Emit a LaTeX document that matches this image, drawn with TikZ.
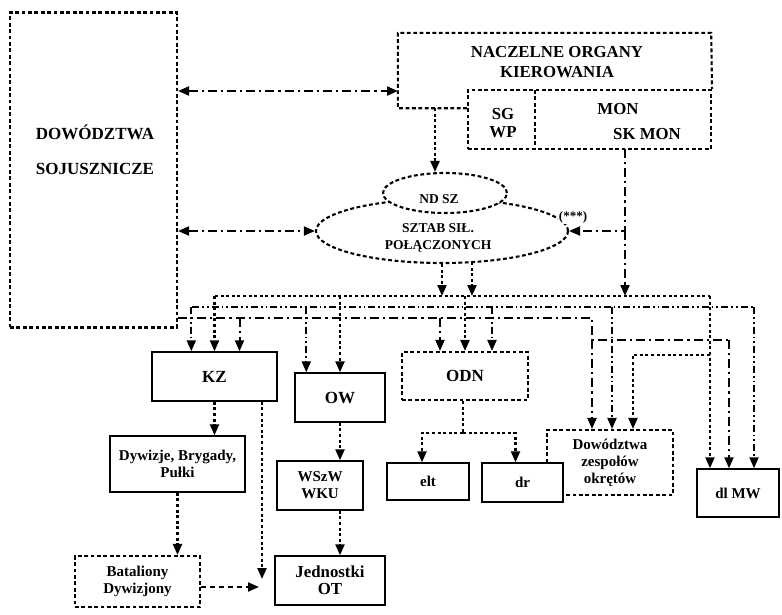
\documentclass[tikz,border=0pt]{standalone}
\usepackage{fontspec}
\setmainfont{Liberation Serif}
\usetikzlibrary{arrows.meta,shapes.geometric}
\begin{document}
\begin{tikzpicture}[x=1pt,y=-1pt,
  sbox/.style={draw, line width=1.4pt, inner sep=0pt, align=center},
  dbox/.style={draw, line width=2.1pt, dash pattern=on 3.8pt off 2.6pt, inner sep=0pt, align=center},
  dframe/.style={line width=2.1pt, dash pattern=on 3.8pt off 2.6pt},
  lab/.style={inner sep=0pt, align=center},
  bigtxt/.style={font=\fontsize{17}{17}\selectfont\bfseries},
  smalltxt/.style={font=\fontsize{15}{17}\selectfont\bfseries},
  elltxt/.style={font=\fontsize{13.5}{17}\selectfont\bfseries},
  dotln/.style={line width=2.2pt, dash pattern=on 3pt off 2.6pt},
  dashln/.style={line width=2.1pt, dash pattern=on 5pt off 4pt},
  ddln/.style={line width=2pt, dash pattern=on 7pt off 3pt on 1.8pt off 3pt on 1.8pt off 3pt},
  dcln/.style={line width=2pt, dash pattern=on 9pt off 4pt on 2.2pt off 4pt},
  toarr/.style={-{Triangle[length=11pt,width=9pt]}},
  botharr/.style={{Triangle[length=11pt,width=9pt]}-{Triangle[length=11pt,width=9pt]}},
]
\useasboundingbox (0,0) rectangle (782,614);

% --- allied commands ---
\node[dbox, minimum width=167pt, minimum height=315pt] (ds) at (93.5,170) {};
\node[lab, bigtxt] (dslbl) at (95,150) {DOWÓDZTWA\\[18pt]SOJUSZNICZE};

% --- supreme command bodies ---
\node[lab, minimum width=313pt, minimum height=75pt] (nok) at (554.5,70.5) {};
\node[dbox, minimum width=243pt, minimum height=59pt] (ib) at (589.5,119.5) {};
\draw[dframe] (ib.west |- nok.south) -- (nok.south west) -- (nok.north west) -- (nok.north east) -- (ib.north east);
\draw[dframe] (535,90) -- (535,149);
\node[lab, font=\fontsize{16.8}{20}\selectfont\bfseries] (noklbl) at (557,62) {NACZELNE ORGANY\\KIEROWANIA};
\node[lab, font=\fontsize{16.8}{18}\selectfont\bfseries] (sgwp) at (503,123) {SG\\WP};
\node[lab, font=\fontsize{16.8}{18}\selectfont\bfseries] (mon) at (618,109) {MON};
\node[lab, font=\fontsize{16.8}{18}\selectfont\bfseries] (skmon) at (647,134) {SK MON};

% --- joint forces staff ---
\node[dbox, ellipse, minimum width=252pt, minimum height=64pt] (szt) at (442,231) {};
\node[dbox, ellipse, fill=white, minimum width=124pt, minimum height=40pt] (ndsz) at (445,193) {};
\node[lab, elltxt] (ndszlbl) at (439,199) {ND SZ};
\node[lab, elltxt] (sztlbl) at (438,238) {SZTAB SIŁ.\\POŁĄCZONYCH};
\node[lab, font=\fontsize{13}{13}\selectfont\bfseries, fill=white, inner sep=1pt] (stars) at (573,217) {(***)};

% --- subordinate commands ---
\node[sbox, bigtxt, minimum width=125pt, minimum height=49pt] (kz) at (214.5,376.5) {KZ};
\node[sbox, bigtxt, minimum width=90pt, minimum height=49pt] (ow) at (340,397.5) {OW};
\node[dbox, bigtxt, minimum width=126pt, minimum height=48pt] (odn) at (465,376) {ODN};
\node[dbox, smalltxt, minimum width=126pt, minimum height=65pt] (dzo) at (610,462.5) {Dowództwa\\zespołów\\okrętów};
\node[sbox, smalltxt, minimum width=82pt, minimum height=48pt] (dlmw) at (738,493) {dl MW};

\node[sbox, smalltxt, minimum width=135pt, minimum height=56pt] (dyw) at (177.5,464) {Dywizje, Brygady,\\Pułki};
\node[dbox, smalltxt, minimum width=125pt, minimum height=51pt] (bat) at (137.5,581.5) {Bataliony\\Dywizjony};
\node[sbox, smalltxt, minimum width=86pt, minimum height=49pt] (wszw) at (320,485.5) {WSzW\\WKU};
\node[sbox, font=\fontsize{16.8}{17}\selectfont\bfseries, minimum width=110pt, minimum height=49pt] (jot) at (330,580.5) {Jednostki\\OT};
\node[sbox, smalltxt, minimum width=82pt, minimum height=37pt] (elt) at (428,481.5) {elt};
\node[sbox, smalltxt, fill=white, minimum width=81pt, minimum height=39pt] (dr) at (522.5,482.5) {dr};

% --- arrow landing points on the boxes ---
\coordinate (kz1) at ([xshift=40pt]kz.north west);
\coordinate (kz3) at ([xshift=25pt]kz.north);
\coordinate (ow2) at ([xshift=12pt]ow.north west);
\coordinate (odn3) at ([xshift=-25pt]odn.north);
\coordinate (odn2) at ([xshift=27pt]odn.north);
\coordinate (dzo3) at ([xshift=-18pt]dzo.north);
\coordinate (dzo2) at ([xshift=2pt]dzo.north);
\coordinate (dzo1) at ([xshift=23pt]dzo.north);
\coordinate (dl1) at ([xshift=-28pt]dlmw.north);
\coordinate (dl3) at ([xshift=-9pt]dlmw.north);
\coordinate (dl2) at ([xshift=16pt]dlmw.north);

% --- distribution lines ---
\coordinate (b1L) at (215,296);
\coordinate (b1R) at (710,296);
\coordinate (b2L) at (192,307);
\coordinate (b2R) at (754,307);
\coordinate (b3M) at (592,318);
\coordinate (b3K) at (592,340);
\coordinate (b3R) at (729,340);
\coordinate (b1K) at (710,355);
\coordinate (b1D) at (633,355);

% --- links to the top ---
\coordinate (nokin) at (398,91);
\draw[dcln, botharr] (ds.east |- nokin) -- (nokin);
\draw[dcln, botharr] (ds.east |- szt.west) -- (szt.west);
\coordinate (nokout) at (435,108);
\draw[dotln, toarr] (nokout) -- (nokout |- ndsz.north);
\coordinate (monout) at (625,149);
\draw[dcln, toarr] (monout) |- (szt.east);
\draw[dcln, toarr] (monout |- szt.east) -- (monout |- b1L);
\coordinate (sztout) at (472,262);
\draw[dotln, toarr] (szt.south) -- (szt.south |- b1L);
\draw[dotln, toarr] (sztout) -- (sztout |- b1L);

% --- buses ---
\draw[dotln] (b1L) -- (b1R);
\draw[ddln] (b2L) -- (b2R);
\draw[dcln] (ds.east |- b3M) -- (b3M) -- (b3K) -- (b3R);

% dotted bus drops
\draw[dotln, toarr] (kz.north |- b1L) -- (kz.north);
\draw[dotln, toarr] (ow.north |- b1L) -- (ow.north);
\draw[dotln, toarr] (odn.north |- b1L) -- (odn.north);
\draw[dotln, toarr] (b1R) -- (dl1);
\draw[dotln, toarr] (b1K) -- (b1D) -- (dzo1);

% dash-dot-dot bus drops
\draw[ddln, toarr] (kz1 |- b2L) -- (kz1);
\draw[ddln, toarr] (ow2 |- b2L) -- (ow2);
\draw[ddln, toarr] (odn2 |- b2L) -- (odn2);
\draw[ddln, toarr] (dzo2 |- b2L) -- (dzo2);
\draw[ddln, toarr] (b2R) -- (dl2);

% dash-dot bus drops
\draw[dcln, toarr] (kz3 |- b3M) -- (kz3);
\draw[dcln, toarr] (odn3 |- b3M) -- (odn3);
\draw[dcln, toarr] (b3K) -- (dzo3);
\draw[dcln, toarr] (b3R) -- (dl3);

% --- lower links ---
\coordinate (os) at (463,433);
\draw[dotln] (odn.south -| os) -- (os);
\draw[dotln, toarr] (os) -| ([xshift=-6pt]elt.north);
\draw[dotln, toarr] (os) -| ([xshift=-7pt]dr.north);
\draw[dotln, toarr] (kz.south) -- (kz.south |- dyw.north);
\draw[dotln, toarr] (dyw.south) -- (dyw.south |- bat.north);
\coordinate (kzdrop) at (262,579);
\draw[dotln, toarr] (kzdrop |- kz.south) -- (kzdrop);
\coordinate (batend) at (259,587);
\draw[dashln, toarr] (bat.east |- batend) -- (batend);
\draw[dotln, toarr] (ow.south) -- (ow.south |- wszw.north);
\draw[dotln, toarr] (ow.south |- wszw.south) -- (ow.south |- jot.north);
\end{tikzpicture}
\end{document}
